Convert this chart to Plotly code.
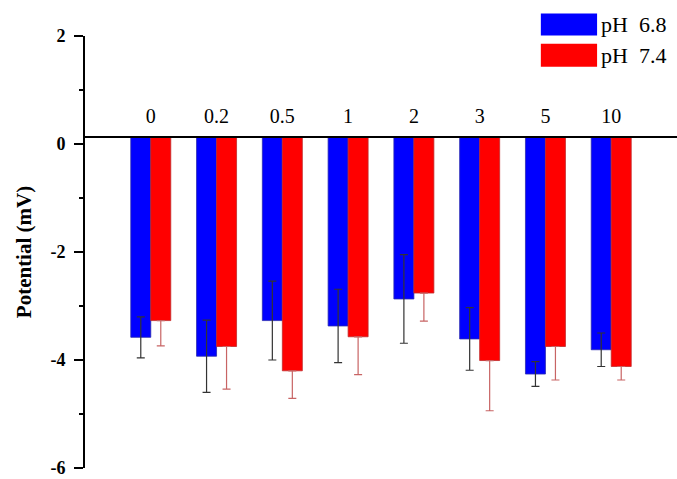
import plotly.graph_objects as go

categories = ["0", "0.2", "0.5", "1", "2", "3", "5", "10"]
ph68 = [-3.58, -3.93, -3.27, -3.37, -2.87, -3.61, -4.26, -3.81]
ph68_err = [0.38, 0.67, 0.73, 0.68, 0.82, 0.58, 0.23, 0.31]
ph74 = [-3.27, -3.75, -4.20, -3.57, -2.76, -4.01, -3.75, -4.12]
ph74_err = [0.47, 0.79, 0.51, 0.70, 0.52, 0.93, 0.62, 0.25]
series_names = ["pH\u00a0\u00a06.8", "pH\u00a0\u00a07.4"]
y_ticks = [-6, -4, -2, 0, 2]
y_ticktext = ["-6", "-4", "-2", "0", "2"]
y_minor_ticks = [-5, -3, -1, 1]
BASELINE = 0.13
YMIN, YMAX = -6.0, 2.0

SERIF = "Liberation Serif"
colors = ["#0000ff", "#ff0000"]
edge = ["#2a2ab0", "#c02a2a"]
err_colors = ["#333333", "#c86464"]

fig = go.Figure()
# pH 6.8: symmetric error bars (upper half visible over the blue bar)
fig.add_trace(go.Bar(
    x=categories, y=[v - BASELINE for v in ph68], base=BASELINE,
    name=series_names[0],
    marker=dict(color=colors[0], line=dict(color=edge[0], width=0.8)),
    error_y=dict(type="data", array=ph68_err, visible=True, color=err_colors[0],
                 thickness=1.2, width=4),
    showlegend=False,
))
# pH 7.4: only the lower half is visible in the reference
fig.add_trace(go.Bar(
    x=categories, y=[v - BASELINE for v in ph74], base=BASELINE,
    name=series_names[1],
    marker=dict(color=colors[1], line=dict(color=edge[1], width=0.8)),
    error_y=dict(type="data", symmetric=False, array=[0] * len(ph74_err),
                 arrayminus=ph74_err, visible=True, color=err_colors[1],
                 thickness=1.2, width=4),
    showlegend=False,
))

fig.update_layout(
    width=677, height=479,
    margin=dict(l=85, r=0, t=36, b=11),
    paper_bgcolor="white", plot_bgcolor="white",
    barmode="group", bargap=0.392, bargroupgap=0,
    font=dict(family=SERIF, color="black"),
    xaxis=dict(
        type="category", range=[-1, 8], automargin=False,
        anchor="free", position=(BASELINE - YMIN) / (YMAX - YMIN),
        side="top", showline=True, linecolor="black", linewidth=2,
        ticks="", showgrid=False, zeroline=False,
        tickfont=dict(family=SERIF, size=20, color="black"),
        ticklabelstandoff=5,
    ),
    yaxis=dict(
        range=[YMIN, YMAX], tickmode="array", tickvals=y_ticks, ticktext=y_ticktext,
        automargin=False, ticklabeloverflow="allow",
        showline=True, linecolor="black", linewidth=2,
        ticks="outside", ticklen=9, tickwidth=2, tickcolor="black",
        showgrid=False, zeroline=False,
        tickfont=dict(family=SERIF, size=18, color="black", weight="bold"),
        ticklabelstandoff=5,
        title=dict(text="Potential (mV)", standoff=13,
                   font=dict(family=SERIF, size=21, color="black", weight="bold")),
    ),
    # minor ticks on an overlaid copy of the y axis
    yaxis2=dict(
        range=[YMIN, YMAX], overlaying="y", anchor="x", side="left",
        tickmode="array", tickvals=y_minor_ticks, showticklabels=False,
        ticks="outside", ticklen=5, tickwidth=2, tickcolor="black",
        showline=False, showgrid=False, zeroline=False, automargin=False,
    ),
)
# invisible trace to activate the minor-tick axis
fig.add_trace(go.Scatter(x=[categories[0]], y=[0], yaxis="y2", mode="markers",
                         marker=dict(opacity=0), hoverinfo="skip", showlegend=False))

# custom legend (wide swatches)
legend_rows = [(1.052, 1.001), (0.982, 0.929)]
for (y1, y0), name, c in zip(legend_rows, series_names, colors):
    fig.add_shape(type="rect", xref="paper", yref="paper", x0=0.770, x1=0.865,
                  y0=y0, y1=y1, fillcolor=c, line=dict(width=0))
    fig.add_annotation(xref="paper", yref="paper", x=0.869, y=(y0 + y1) / 2,
                       text=name, showarrow=False, xanchor="left", yanchor="middle",
                       font=dict(family=SERIF, size=22, color="black"))

fig.write_html("out.html", config={"displayModeBar": False},
               post_script="document.body.style.margin='0';")
